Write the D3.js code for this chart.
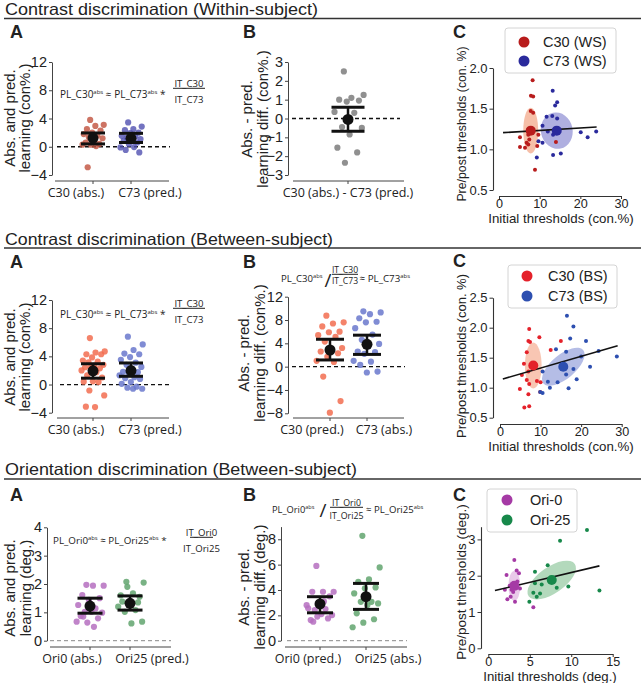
<!DOCTYPE html>
<html><head><meta charset="utf-8">
<script src="https://cdn.jsdelivr.net/npm/d3@7/dist/d3.min.js"></script>
<style>body{margin:0;background:#fff}svg{display:block}</style>
</head><body>
<svg id="chart" width="641" height="683"></svg>
<script>
// ================= DATA =================
// Section 1 : Contrast discrimination (Within-subject)
const s1A_cats = ['C30 (abs.)', 'C73 (pred.)'];
const s1A_C30 = [3.8, 3.1, 2.95, 2.5, 2.3, 2.0, 1.8, 1.6, 1.35, 1.2, 0.85, 0.6, 0.4, 0.3, 0.3, 0.1, -2.9];
const s1A_C73 = [3.45, 2.85, 2.5, 2.35, 2.0, 1.95, 1.55, 1.45, 1.3, 1.1, 0.95, 0.85, 0.6, 0.4, -0.1, -0.05, -0.45, -0.8];
const s1A_mean = [1.23, 1.20];
const s1A_lo = [0.40, 0.60];
const s1A_hi = [1.95, 1.90];
const s1A_yTicks = [-4, 0, 4, 8, 12];

const s1B_cats = ['C30 (abs.) - C73 (pred.)'];
const s1B_diff = [2.5, 1.25, 1.1, 1.0, 0.95, 0.9, 0.35, 0.3, -0.45, -0.5, -0.85, -1.55, -1.8, -2.35];
const s1B_mean = [-0.05];
const s1B_lo = [-0.68];
const s1B_hi = [0.60];
const s1B_yTicks = [-3, -2, -1, 0, 1, 2, 3];

const s1C_legend = ['C30 (WS)', 'C73 (WS)'];
const s1C_C30_x = [8.27, 7.86, 8.4, 7.8, 8.4, 5.16, 7.2, 7.45, 6.8, 5.16, 7.2, 6.4, 9.4, 8.85, 14.0, 9.67];
const s1C_C30_y = [1.85, 1.66, 1.65, 1.47, 1.45, 1.15, 1.18, 1.12, 1.08, 1.03, 1.06, 1.02, 1.04, 0.75, 1.09, 1.18];
const s1C_C73_x = [13.2, 14.3, 13.8, 11.7, 13.1, 14.3, 10.7, 12.0, 13.3, 9.7, 10.7, 9.3, 13.3, 15.2, 20.1, 21.8, 23.9];
const s1C_C73_y = [1.72, 1.58, 1.54, 1.40, 1.41, 1.38, 1.29, 1.22, 1.18, 1.10, 1.08, 0.90, 0.93, 0.95, 1.21, 1.15, 1.22];
const s1C_meanX = [7.8, 14.2];
const s1C_meanY = [1.23, 1.23];
const s1C_ellRX = [1.84, 3.9];
const s1C_ellRY = [0.28, 0.225];
const s1C_ellAng = [0, -12];
const s1C_fitX = [1.0, 24.0];
const s1C_fitY = [1.205, 1.275];
const s1C_xTicks = [0, 10, 20, 30];
const s1C_yTicks = [0.5, 1.0, 1.5, 2.0];

// Section 2 : Contrast discrimination (Between-subject)
const s2A_cats = ['C30 (abs.)', 'C73 (pred.)'];
const s2A_C30 = [6.6, 4.7, 4.55, 4.3, 4.3, 3.85, 3.4, 3.25, 3.15, 2.8, 2.7, 2.45, 2.3, 2.4, 2.0, 1.75, 1.3, 1.0, 0.45, 0.4, 0.35, -0.85, -1.55, -3.2, -3.15];
const s2A_C73 = [6.8, 5.7, 4.9, 4.4, 4.3, 3.9, 3.5, 3.1, 2.8, 2.5, 2.2, 1.8, 1.75, 1.5, 1.3, 1.05, 0.9, 0.8, 0.35, 0.1, -0.3, -0.45, -0.6, -0.6];
const s2A_mean = [1.95, 1.98];
const s2A_lo = [0.90, 1.17];
const s2A_hi = [2.95, 3.06];
const s2A_yTicks = [-4, 0, 4, 8, 12];

const s2B_cats = ['C30 (pred.)', 'C73 (abs.)'];
const s2B_C30 = [8.75, 7.6, 7.4, 6.9, 6.0, 5.9, 5.4, 5.1, 4.3, 3.2, 2.9, 2.6, 2.3, 1.7, 1.0, 0.8, -1.7, -5.9, -7.9];
const s2B_C73 = [9.5, 9.3, 9.0, 8.3, 7.7, 7.6, 6.6, 5.5, 4.6, 3.9, 3.5, 2.6, 2.5, 2.2, 1.0, 0.85, 0.3, -0.85, -1.0];
const s2B_mean = [2.86, 3.84];
const s2B_lo = [1.15, 2.10];
const s2B_hi = [4.70, 5.40];
const s2B_yTicks = [-8, -4, 0, 4, 8, 12];

const s2C_legend = ['C30 (BS)', 'C73 (BS)'];
const s2C_C30_x = [7.2, 7.0, 7.4, 9.7, 12.5, 6.6, 15.0, 5.9, 7.0, 5.4, 6.6, 9.1, 10.0, 4.9, 7.2, 7.0, 6.0, 7.2, 9.9];
const s2C_C30_y = [1.98, 1.78, 1.76, 1.84, 1.63, 1.59, 1.78, 1.40, 1.27, 1.21, 1.13, 1.11, 1.09, 0.98, 1.06, 0.89, 0.67, 0.69, 0.93];
const s2C_C73_x = [16.5, 18.1, 17.3, 21.2, 13.8, 16.3, 24.3, 28.8, 20.0, 22.2, 18.1, 10.5, 16.3, 18.9, 11.8, 14.2, 12.3, 9.9, 10.5, 16.9];
const s2C_C73_y = [2.20, 2.02, 1.82, 1.78, 1.64, 1.60, 1.61, 1.52, 1.52, 1.35, 1.31, 1.27, 1.22, 1.14, 1.10, 1.09, 1.00, 0.93, 0.91, 0.99];
const s2C_meanX = [8.2, 15.6];
const s2C_meanY = [1.37, 1.35];
const s2C_ellRX = [2.06, 6.4];
const s2C_ellRY = [0.383, 0.2];
const s2C_ellAng = [0, -40];
const s2C_fitX = [0.7, 29.0];
const s2C_fitY = [1.145, 1.70];
const s2C_xTicks = [0, 10, 20, 30];
const s2C_yTicks = [0.5, 1.0, 1.5, 2.0, 2.5];

// Section 3 : Orientation discrimination (Between-subject)
const s3A_cats = ['Ori0 (abs.)', 'Ori25 (pred.)'];
const s3A_Ori0 = [1.97, 1.94, 1.94, 1.61, 1.50, 1.44, 1.26, 1.14, 1.02, 0.99, 1.02, 0.87, 0.79, 0.64, 0.67, 0.49, 0.85];
const s3A_Ori25 = [2.08, 2.05, 1.67, 1.38, 1.55, 1.32, 1.20, 1.08, 1.02, 0.67, 0.61, 1.60, 1.35, 1.90];
const s3A_mean = [1.22, 1.32];
const s3A_lo = [0.97, 1.08];
const s3A_hi = [1.50, 1.58];
const s3A_yTicks = [0, 1, 2, 3, 4];

const s3B_cats = ['Ori0 (pred.)', 'Ori25 (abs.)'];
const s3B_Ori0 = [5.9, 3.86, 3.86, 3.86, 3.5, 2.94, 2.55, 2.5, 2.42, 2.02, 2.1, 1.63, 1.76, 1.9, 2.8, 3.1, 1.5];
const s3B_Ori25 = [8.27, 5.78, 4.83, 4.65, 4.2, 4.13, 3.73, 3.07, 3.07, 2.94, 2.81, 2.16, 1.69, 1.42, 1.06];
const s3B_mean = [2.90, 3.47];
const s3B_lo = [2.20, 2.47];
const s3B_hi = [3.47, 4.52];
const s3B_yTicks = [0, 2, 4, 6, 8];

const s3C_legend = ['Ori-0', 'Ori-25'];
const s3C_Ori0_x = [3.14, 3.42, 3.7, 2.2, 2.58, 3.5, 2.0, 2.8, 3.82, 2.7, 2.3, 3.22, 5.43, 3.0, 3.4];
const s3C_Ori0_y = [2.43, 2.14, 2.07, 2.02, 1.72, 1.84, 1.61, 1.61, 1.65, 1.42, 1.35, 1.28, 1.13, 1.55, 1.70];
const s3C_Ori25_x = [11.9, 8.65, 7.16, 5.63, 7.65, 5.63, 6.44, 9.65, 8.25, 5.43, 6.24, 5.84, 4.95, 13.4, 7.9];
const s3C_Ori25_y = [3.26, 2.96, 2.29, 2.11, 1.93, 1.79, 1.76, 1.70, 1.67, 1.53, 1.51, 1.42, 1.28, 1.59, 1.90];
const s3C_meanX = [3.14, 7.65];
const s3C_meanY = [1.72, 1.88];
const s3C_ellRX = [0.72, 3.4];
const s3C_ellRY = [0.41, 0.36];
const s3C_ellAng = [0, -35];
const s3C_fitX = [0.8, 13.4];
const s3C_fitY = [1.59, 2.27];
const s3C_xTicks = [0, 5, 10, 15];
const s3C_yTicks = [0, 1, 2, 3];

const sectionTitles = ['Contrast discrimination (Within-subject)', 'Contrast discrimination (Between-subject)', 'Orientation discrimination (Between-subject)'];

// ================= DRAWING =================
const svg = d3.select('#chart');
const FA = "'Liberation Sans', Arial, Helvetica, sans-serif";
const FM = "'Open Sans', 'Noto Sans', sans-serif";
const INK = '#222';

function jitter(i, w) { return (((i * 0.6180339887 + 0.37) % 1) - 0.5) * w; }

// section headers
const titleBase = [15.2, 244.5, 474.5], titleLine = [18.5, 248, 479], titleLen = [313, 328, 352];
sectionTitles.forEach((t, i) => {
  svg.append('text').attr('x', 5).attr('y', titleBase[i]).attr('font-family', FA).attr('font-size', 16.5)
    .attr('textLength', titleLen[i]).attr('lengthAdjust', 'spacingAndGlyphs').attr('fill', INK).text(t);
  svg.append('line').attr('x1', 4).attr('x2', 641).attr('y1', titleLine[i]).attr('y2', titleLine[i])
    .attr('stroke', '#333').attr('stroke-width', 1.6);
});
// panel letters
[[38, 38, 38], [268, 268, 267], [501, 501, 501]].forEach((ys) => {
  ['A', 'B', 'C'].forEach((L, j) => {
    svg.append('text').attr('x', [10, 243, 453][j]).attr('y', ys[j]).attr('font-family', FA)
      .attr('font-weight', 'bold').attr('font-size', 18).attr('fill', INK).text(L);
  });
});

function rotLabel(g, txt, bx, cy, size, font) {
  g.append('text').attr('transform', `translate(${bx},${cy}) rotate(-90)`).attr('text-anchor', 'middle')
    .attr('font-family', font).attr('font-size', size).attr('fill', INK).text(txt);
}

function stripPanel(p) {
  const g = svg.append('g');
  const y = d3.scaleLinear().domain(p.yDomain).range(p.yRange);
  const x = d3.scaleOrdinal().domain(p.cats).range(p.catX);
  const ax = g.append('g').attr('transform', `translate(${p.axisX},0)`)
    .call(d3.axisLeft(y).tickValues(p.yTicks).tickSize(3).tickPadding(2).tickSizeOuter(0).tickFormat(d3.format('d')));
  ax.select('.domain').attr('stroke', '#444').attr('stroke-width', 1);
  ax.selectAll('.tick line').attr('stroke', '#444');
  ax.selectAll('text').attr('font-family', FA).attr('font-size', 14.5).attr('fill', INK);
  // zero line
  g.append('line').attr('x1', p.dashX[0]).attr('x2', p.dashX[1]).attr('y1', y(0)).attr('y2', y(0))
    .attr('stroke', p.dashColor).attr('stroke-width', p.dashW).attr('stroke-dasharray', '4,3');
  // dots
  p.series.forEach((vals, k) => {
    g.append('g').selectAll('circle').data(vals).join('circle')
      .attr('cx', (d, i) => x(p.cats[k]) + jitter(i, p.jitterW))
      .attr('cy', d => y(d)).attr('r', 3.1)
      .attr('fill', p.colors[k]).attr('fill-opacity', p.opacity);
  });
  // error bars
  p.cats.forEach((c, k) => {
    const cx = x(c);
    g.append('line').attr('x1', cx).attr('x2', cx).attr('y1', y(p.lo[k])).attr('y2', y(p.hi[k]))
      .attr('stroke', '#111').attr('stroke-width', 2.5);
    [p.lo[k], p.hi[k]].forEach(v => g.append('line').attr('x1', cx - p.capW / 2).attr('x2', cx + p.capW / 2)
      .attr('y1', y(v)).attr('y2', y(v)).attr('stroke', '#111').attr('stroke-width', 3));
    g.append('circle').attr('cx', cx).attr('cy', y(p.mean[k])).attr('r', 5.5).attr('fill', '#111');
  });
  // x axis
  g.append('line').attr('x1', p.xAxisX[0]).attr('x2', p.xAxisX[1]).attr('y1', p.xAxisY).attr('y2', p.xAxisY)
    .attr('stroke', '#444').attr('stroke-width', 1);
  p.cats.forEach((c, k) => {
    g.append('line').attr('x1', x(c)).attr('x2', x(c)).attr('y1', p.xAxisY).attr('y2', p.xAxisY + 3).attr('stroke', '#444');
    g.append('text').attr('x', p.labelX[k]).attr('y', p.xAxisY + 16).attr('text-anchor', 'middle')
      .attr('font-family', FM).attr('font-size', 12.5).attr('fill', INK).text(c);
  });
  rotLabel(g, p.yLabel[0], p.yLabelX[0], p.yLabelY, 15, FA);
  rotLabel(g, p.yLabel[1], p.yLabelX[1], p.yLabelY, 15, FA);
  return g;
}

function scatterPanel(p) {
  const g = svg.append('g');
  const x = d3.scaleLinear().domain(p.xDomain).range(p.xRange);
  const y = d3.scaleLinear().domain(p.yDomain).range(p.yRange);
  const ay = g.append('g').attr('transform', `translate(${p.axisX},0)`)
    .call(d3.axisLeft(y).tickValues(p.yTicks).tickFormat(d3.format(p.yFmt)).tickSize(3.5).tickPadding(2).tickSizeOuter(0));
  const axb = g.append('g').attr('transform', `translate(0,${p.axisY})`)
    .call(d3.axisBottom(x).tickValues(p.xTicks).tickFormat(d3.format('d')).tickSize(3).tickPadding(0.5).tickSizeOuter(0));
  [ay, axb].forEach(a => {
    a.select('.domain').attr('stroke', '#333').attr('stroke-width', 1.1);
    a.selectAll('.tick line').attr('stroke', '#333');
    a.selectAll('text').attr('font-family', FA).attr('font-size', 13).attr('fill', INK);
  });
  axb.selectAll('text').attr('font-size', 12.6);
  // ellipses
  p.meanX.forEach((mx, k) => {
    const rx = Math.abs(x(mx + p.ellRX[k]) - x(mx));
    const ry = Math.abs(y(p.meanY[k] + p.ellRY[k]) - y(p.meanY[k]));
    g.append('ellipse').attr('rx', rx).attr('ry', ry)
      .attr('transform', `translate(${x(mx)},${y(p.meanY[k])}) rotate(${p.ellAng[k]})`)
      .attr('fill', p.ellColors[k]).attr('fill-opacity', 0.6);
  });
  // points
  p.xs.forEach((xs, k) => {
    g.append('g').selectAll('circle').data(xs.map((v, i) => [v, p.ys[k][i]])).join('circle')
      .attr('cx', d => x(d[0])).attr('cy', d => y(d[1])).attr('r', 2).attr('fill', p.colors[k]);
  });
  // fit line
  g.append('line').attr('x1', x(p.fitX[0])).attr('x2', x(p.fitX[1])).attr('y1', y(p.fitY[0])).attr('y2', y(p.fitY[1]))
    .attr('stroke', '#111').attr('stroke-width', 1.6);
  // means
  p.meanX.forEach((mx, k) => g.append('circle').attr('cx', x(mx)).attr('cy', y(p.meanY[k])).attr('r', 5).attr('fill', p.colors[k]));
  // labels
  g.append('text').attr('x', p.xLabelX).attr('y', p.xLabelY).attr('text-anchor', 'middle')
    .attr('font-family', FA).attr('font-size', p.xLabelSize).attr('fill', INK).text(p.xLabel);
  rotLabel(g, p.yLabel, p.yLabelX, p.yLabelY, p.yLabelSize, FA);
  // legend
  const lg = p.legendBox;
  g.append('rect').attr('x', lg[0]).attr('y', lg[1]).attr('width', lg[2]).attr('height', lg[3]).attr('rx', 3)
    .attr('fill', '#fff').attr('fill-opacity', 0.85).attr('stroke', '#d4d4d4');
  p.legend.forEach((t, k) => {
    g.append('circle').attr('cx', p.legDotX).attr('cy', p.legRows[k]).attr('r', 5.5).attr('fill', p.colors[k]);
    g.append('text').attr('x', p.legTextX).attr('y', p.legRows[k] + 5).attr('font-family', FA).attr('font-size', 14.5)
      .attr('fill', INK).text(t);
  });
}

// formula helpers
function supText(g, x, y, parts, size) {
  const t = g.append('text').attr('x', x).attr('y', y).attr('font-family', FM).attr('font-size', size).attr('fill', INK);
  parts.forEach(pt => {
    if (pt.sup) t.append('tspan').attr('font-size', size * 0.6).attr('dy', -size * 0.38).text(pt.s);
    else t.append('tspan').attr('dy', pt.after ? size * 0.38 : 0).text(pt.s);
  });
  return t;
}
function frac(g, cx, x0, x1, lineY, num, den, size, gap) {
  g.append('text').attr('x', cx).attr('y', lineY - 1.8).attr('text-anchor', 'middle').attr('font-family', FM).attr('font-size', size).attr('fill', INK).text(num);
  g.append('line').attr('x1', x0).attr('x2', x1).attr('y1', lineY).attr('y2', lineY).attr('stroke', INK).attr('stroke-width', 1);
  g.append('text').attr('x', cx).attr('y', lineY + gap).attr('text-anchor', 'middle').attr('font-family', FM).attr('font-size', size).attr('fill', INK).text(den);
}

// ---- Section 1 ----
const g1A = stripPanel({
  cats: s1A_cats, series: [s1A_C30, s1A_C73], mean: s1A_mean, lo: s1A_lo, hi: s1A_hi, yTicks: s1A_yTicks,
  yDomain: [-4, 12], yRange: [175, 62], axisX: 52, catX: [93, 131], labelX: [76, 150],
  xAxisY: 181, xAxisX: [55, 169], dashX: [57, 170], dashColor: '#111', dashW: 1.3,
  colors: ['#c0503c', '#5050b0'], opacity: 0.8, jitterW: 22, capW: 24,
  yLabel: ['Abs. and pred.', 'learning (con%.)'], yLabelX: [14.5, 30], yLabelY: 118
});
supText(g1A, 60, 97.6, [{s: 'PL_C30'}, {s: 'abs', sup: true}, {s: ' \u2248 PL_C73', after: true}, {s: 'abs', sup: true}, {s: ' *', after: true}], 10);
frac(g1A, 189, 173, 205, 88.3, 'IT_C30', 'IT_C73', 9.6, 14.3);

stripPanel({
  cats: s1B_cats, series: [s1B_diff], mean: s1B_mean, lo: s1B_lo, hi: s1B_hi, yTicks: s1B_yTicks,
  yDomain: [-3, 3], yRange: [175, 62], axisX: 288, catX: [348], labelX: [348],
  xAxisY: 181, xAxisX: [293, 404], dashX: [292, 400], dashColor: '#111', dashW: 1.3,
  colors: ['#8a8a8a'], opacity: 0.95, jitterW: 32, capW: 33,
  yLabel: ['Abs. - pred.', 'learning diff. (con%.)'], yLabelX: [252, 268], yLabelY: 119
});

scatterPanel({
  xs: [s1C_C30_x, s1C_C73_x], ys: [s1C_C30_y, s1C_C73_y], meanX: s1C_meanX, meanY: s1C_meanY,
  ellRX: s1C_ellRX, ellRY: s1C_ellRY, ellAng: s1C_ellAng, fitX: s1C_fitX, fitY: s1C_fitY,
  xTicks: s1C_xTicks, yTicks: s1C_yTicks, yFmt: '.1f',
  xDomain: [0, 30], xRange: [499, 621], yDomain: [0.5, 2.0], yRange: [190, 68], axisX: 493, axisY: 196,
  colors: ['#b81c1c', '#2a2a9c'], ellColors: ['#f0946e', '#7a7acc'],
  xLabel: 'Initial thresholds (con.%)', xLabelX: 561, xLabelY: 223, xLabelSize: 13.3,
  yLabel: 'Pre/post thresholds (con. %)', yLabelX: 466, yLabelY: 124, yLabelSize: 12.3,
  legend: s1C_legend, legendBox: [505, 28, 111, 45], legDotX: 524, legRows: [42, 61], legTextX: 543
});

// ---- Section 2 ----
const g2A = stripPanel({
  cats: s2A_cats, series: [s2A_C30, s2A_C73], mean: s2A_mean, lo: s2A_lo, hi: s2A_hi, yTicks: s2A_yTicks,
  yDomain: [-4, 12], yRange: [412.7, 300], axisX: 52, catX: [93, 131], labelX: [76, 150],
  xAxisY: 418, xAxisX: [57, 169], dashX: [60, 170], dashColor: '#111', dashW: 1.3,
  colors: ['#f26d50', '#6a78cc'], opacity: 0.85, jitterW: 24, capW: 24,
  yLabel: ['Abs. and pred.', 'learning (con%.)'], yLabelX: [14.5, 30], yLabelY: 357
});
supText(g2A, 60, 317.6, [{s: 'PL_C30'}, {s: 'abs', sup: true}, {s: ' \u2248 PL_C73', after: true}, {s: 'abs', sup: true}, {s: ' *', after: true}], 10);
frac(g2A, 189, 173, 205, 308.3, 'IT_C30', 'IT_C73', 9.6, 14.3);

const g2B = stripPanel({
  cats: s2B_cats, series: [s2B_C30, s2B_C73], mean: s2B_mean, lo: s2B_lo, hi: s2B_hi, yTicks: s2B_yTicks,
  yDomain: [-8, 12], yRange: [413.3, 296.7], axisX: 288, catX: [330, 367], labelX: [312, 384],
  xAxisY: 418, xAxisX: [293, 404], dashX: [292, 405], dashColor: '#111', dashW: 1.3,
  colors: ['#f26d50', '#6a78cc'], opacity: 0.85, jitterW: 28, capW: 28,
  yLabel: ['Abs. - pred.', 'learning diff. (con%.)'], yLabelX: [249, 265], yLabelY: 353
});
supText(g2B, 281, 282, [{s: 'PL_C30'}, {s: 'abs', sup: true}], 9.6);
g2B.append('text').attr('x', 324.5).attr('y', 287).attr('font-family', FM).attr('font-size', 19).attr('fill', INK).text('/');
frac(g2B, 345, 332, 358, 274.3, 'IT_C30', 'IT_C73', 8.6, 10);
supText(g2B, 359.5, 281.5, [{s: '\u2248 PL_C73'}, {s: 'abs', sup: true}], 9.8);

scatterPanel({
  xs: [s2C_C30_x, s2C_C73_x], ys: [s2C_C30_y, s2C_C73_y], meanX: s2C_meanX, meanY: s2C_meanY,
  ellRX: s2C_ellRX, ellRY: s2C_ellRY, ellAng: s2C_ellAng, fitX: s2C_fitX, fitY: s2C_fitY,
  xTicks: s2C_xTicks, yTicks: s2C_yTicks, yFmt: '.1f',
  xDomain: [0, 30], xRange: [500, 621.7], yDomain: [0.5, 2.5], yRange: [417.7, 297.7], axisX: 493, axisY: 424,
  colors: ['#e4212a', '#2d4fb0'], ellColors: ['#f3a080', '#8391d6'],
  xLabel: 'Initial thresholds (con.%)', xLabelX: 561, xLabelY: 451, xLabelSize: 13.3,
  yLabel: 'Pre/post thresholds (con. %)', yLabelX: 466, yLabelY: 356, yLabelSize: 13,
  legend: s2C_legend, legendBox: [508, 265, 109, 43], legDotX: 527, legRows: [276, 296], legTextX: 548
});

// ---- Section 3 ----
const g3A = stripPanel({
  cats: s3A_cats, series: [s3A_Ori0, s3A_Ori25], mean: s3A_mean, lo: s3A_lo, hi: s3A_hi, yTicks: s3A_yTicks,
  yDomain: [0, 4], yRange: [640.7, 527.3], axisX: 47, catX: [90, 130], labelX: [72, 152],
  xAxisY: 647, xAxisX: [50, 171], dashX: [50, 171], dashColor: '#888', dashW: 1,
  colors: ['#b56fbf', '#62a56e'], opacity: 0.85, jitterW: 28, capW: 25,
  yLabel: ['Abs. and pred.', 'learning (deg.)'], yLabelX: [14.5, 30.5], yLabelY: 588
});
supText(g3A, 53, 544, [{s: 'PL_Ori0'}, {s: 'abs', sup: true}, {s: ' \u2248 PL_Ori25', after: true}, {s: 'abs', sup: true}, {s: ' *', after: true}], 9.8);
frac(g3A, 201.5, 190, 213, 537.3, 'IT_Ori0', 'IT_Ori25', 9.6, 15);

const g3B = stripPanel({
  cats: s3B_cats, series: [s3B_Ori0, s3B_Ori25], mean: s3B_mean, lo: s3B_lo, hi: s3B_hi, yTicks: s3B_yTicks,
  yDomain: [0, 9], yRange: [640.7, 526.6], axisX: 281, catX: [320, 366], labelX: [308, 388],
  xAxisY: 647, xAxisX: [285, 407], dashX: [287, 407], dashColor: '#888', dashW: 1,
  colors: ['#b56fbf', '#62a56e'], opacity: 0.85, jitterW: 28, capW: 26,
  yLabel: ['Abs. - pred.', 'learning diff. (deg.)'], yLabelX: [249, 265], yLabelY: 587
});
supText(g3B, 272, 512.5, [{s: 'PL_Ori0'}, {s: 'abs', sup: true}], 9.3);
g3B.append('text').attr('x', 319.5).attr('y', 517).attr('font-family', FM).attr('font-size', 19).attr('fill', INK).text('/');
frac(g3B, 346.5, 330, 363, 507.3, 'IT_Ori0', 'IT_Ori25', 8.8, 11.5);
supText(g3B, 366, 512.5, [{s: '\u2248 PL_Ori25'}, {s: 'abs', sup: true}], 9.6);

scatterPanel({
  xs: [s3C_Ori0_x, s3C_Ori25_x], ys: [s3C_Ori0_y, s3C_Ori25_y], meanX: s3C_meanX, meanY: s3C_meanY,
  ellRX: s3C_ellRX, ellRY: s3C_ellRY, ellAng: s3C_ellAng, fitX: s3C_fitX, fitY: s3C_fitY,
  xTicks: s3C_xTicks, yTicks: s3C_yTicks, yFmt: 'd',
  xDomain: [0, 15], xRange: [488.3, 612.7], yDomain: [0, 3.35], yRange: [648.3, 526.7], axisX: 481, axisY: 654,
  colors: ['#a53aa5', '#17884a'], ellColors: ['#dba5db', '#80bf8f'],
  xLabel: 'Initial thresholds (deg.)', xLabelX: 550, xLabelY: 680.5, xLabelSize: 13.2,
  yLabel: 'Pre/post thresholds (deg.)', yLabelX: 466, yLabelY: 582, yLabelSize: 13.5,
  legend: s3C_legend, legendBox: [487, 489, 90, 43], legDotX: 507, legRows: [500, 520], legTextX: 530
});
</script>
</body></html>
